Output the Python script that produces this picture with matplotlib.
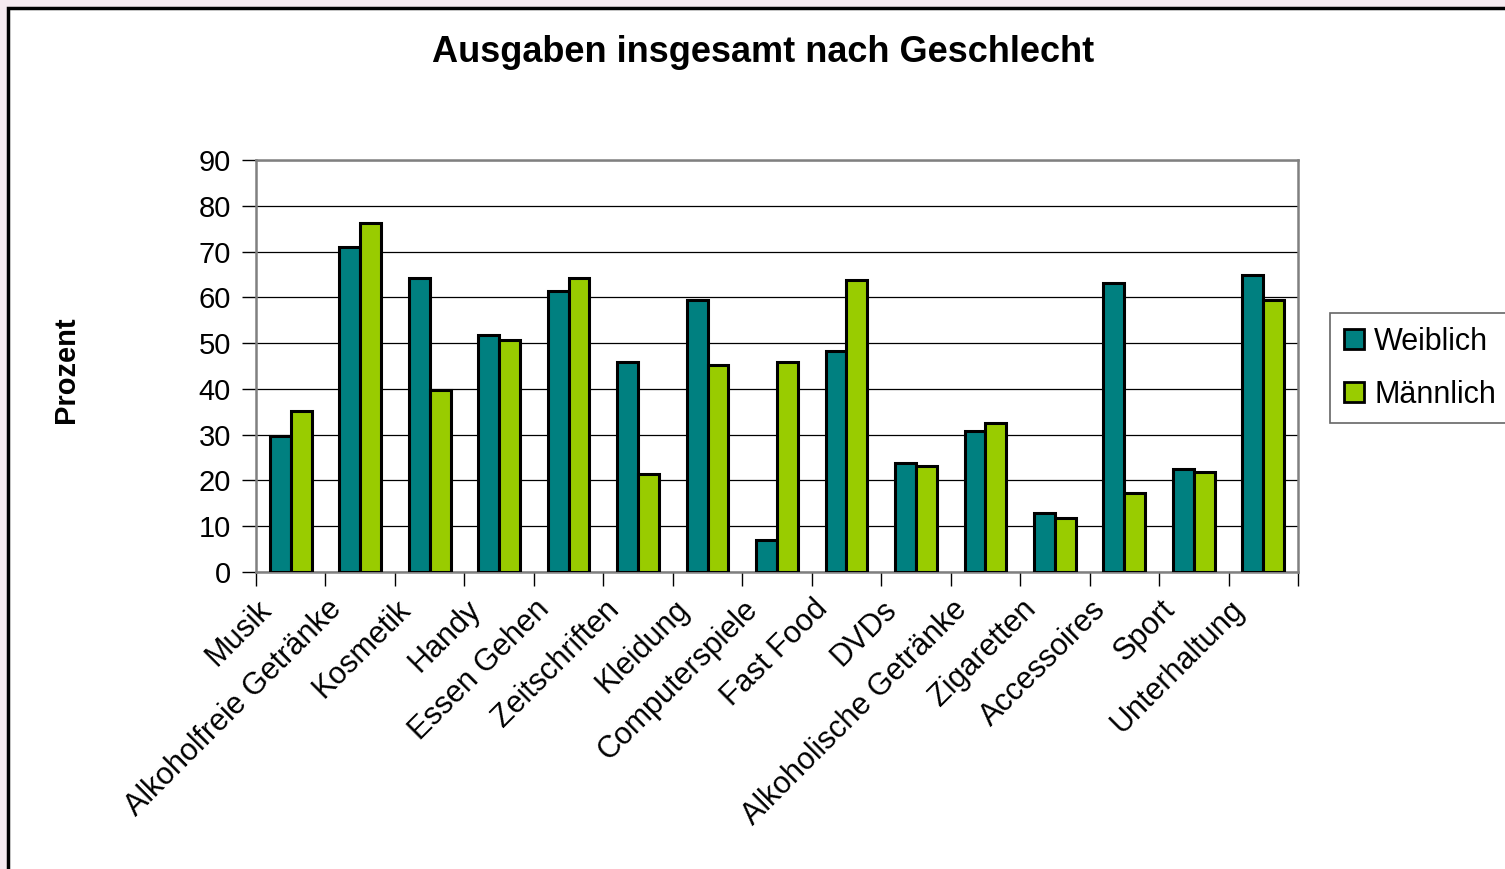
import matplotlib.pyplot as plt
import matplotlib.patches as mpatches
import matplotlib.transforms as mtransforms
import numpy as np

plt.rcParams['font.family'] = ['Liberation Sans', 'DejaVu Sans']

kategorien = ["Musik", "Alkoholfreie Getränke", "Kosmetik", "Handy", "Essen Gehen",
              "Zeitschriften", "Kleidung", "Computerspiele", "Fast Food", "DVDs",
              "Alkoholische Getränke", "Zigaretten", "Accessoires", "Sport", "Unterhaltung"]
weiblich = [29.8, 71.0, 64.3, 51.8, 61.4, 45.8, 59.5, 7.0, 48.3, 23.8, 30.9, 12.9, 63.1, 22.5, 64.9]
maennlich = [35.2, 76.3, 39.8, 50.6, 64.3, 21.4, 45.3, 45.8, 63.7, 23.2, 32.6, 11.8, 17.3, 21.9, 59.4]
yticks = list(range(0, 100, 10))

col_w = "#008080"
col_m = "#99CC00"

fig = plt.figure(figsize=(15.05, 8.69), dpi=100)
fig.patch.set_facecolor("#f6eaf0")

# weisser Diagrammbereich mit schwarzem Rahmen
bg = mpatches.Rectangle((8 / 1505, -0.05), 1.1, 1 - 8 / 869 + 0.05,
                        transform=fig.transFigure, facecolor="white",
                        edgecolor="black", linewidth=2.5, zorder=-10)
fig.patches.append(bg)

ax = fig.add_axes([256 / 1505, 297 / 869, 1042 / 1505, 412 / 869])
ax.set_facecolor("white")

x = np.arange(len(kategorien))
bw = 0.3
ax.bar(x - bw / 2, weiblich, bw, color=col_w, edgecolor="black", linewidth=2.2,
       label="Weiblich", zorder=3)
ax.bar(x + bw / 2, maennlich, bw, color=col_m, edgecolor="black", linewidth=2.2,
       label="Männlich", zorder=3)

ax.set_xlim(-0.5, len(kategorien) - 0.5)
ax.set_ylim(0, 90)
ax.set_yticks(yticks)
ax.yaxis.grid(True, color="black", linewidth=0.9)
ax.set_axisbelow(True)

for s in ax.spines.values():
    s.set_color("#808080")
    s.set_linewidth(1.8)

ax.tick_params(axis="y", labelsize=21, length=10, width=1, color="black", pad=8)
ax.set_xticks(x)
ax.set_xticklabels(kategorien, rotation=45, ha="right", va="top",
                   rotation_mode="anchor", fontsize=22)
ax.tick_params(axis="x", which="major", length=0, pad=16)
ax.set_xticks(np.arange(-0.5, len(kategorien), 1), minor=True)
ax.tick_params(axis="x", which="minor", length=10, width=1, color="black")

# Beschriftungen etwas nach links versetzt wie im Original
versatz = mtransforms.ScaledTranslation(-34 / 100, 0, fig.dpi_scale_trans)
for lab in ax.get_xticklabels():
    lab.set_transform(lab.get_transform() + versatz)

ax.set_ylabel("Prozent", fontsize=21, fontweight="bold", labelpad=0)
ax.yaxis.set_label_coords(-176 / 1042, 0.49)

fig.text(763 / 1505, 1 - 53 / 869, "Ausgaben insgesamt nach Geschlecht",
         ha="center", va="center", fontsize=26, fontweight="bold")

leg = ax.legend(loc="upper left", bbox_to_anchor=(1074 / 1042, 259 / 412),
                borderaxespad=0, fontsize=22, frameon=True, fancybox=False,
                edgecolor="#404040", handlelength=0.65, handleheight=0.65,
                handletextpad=0.35, labelspacing=0.75, borderpad=0.45)
leg.get_frame().set_linewidth(1.2)
for h in leg.legend_handles:
    h.set_linewidth(2.0)

fig.savefig("out.png", dpi=100, facecolor=fig.get_facecolor())
